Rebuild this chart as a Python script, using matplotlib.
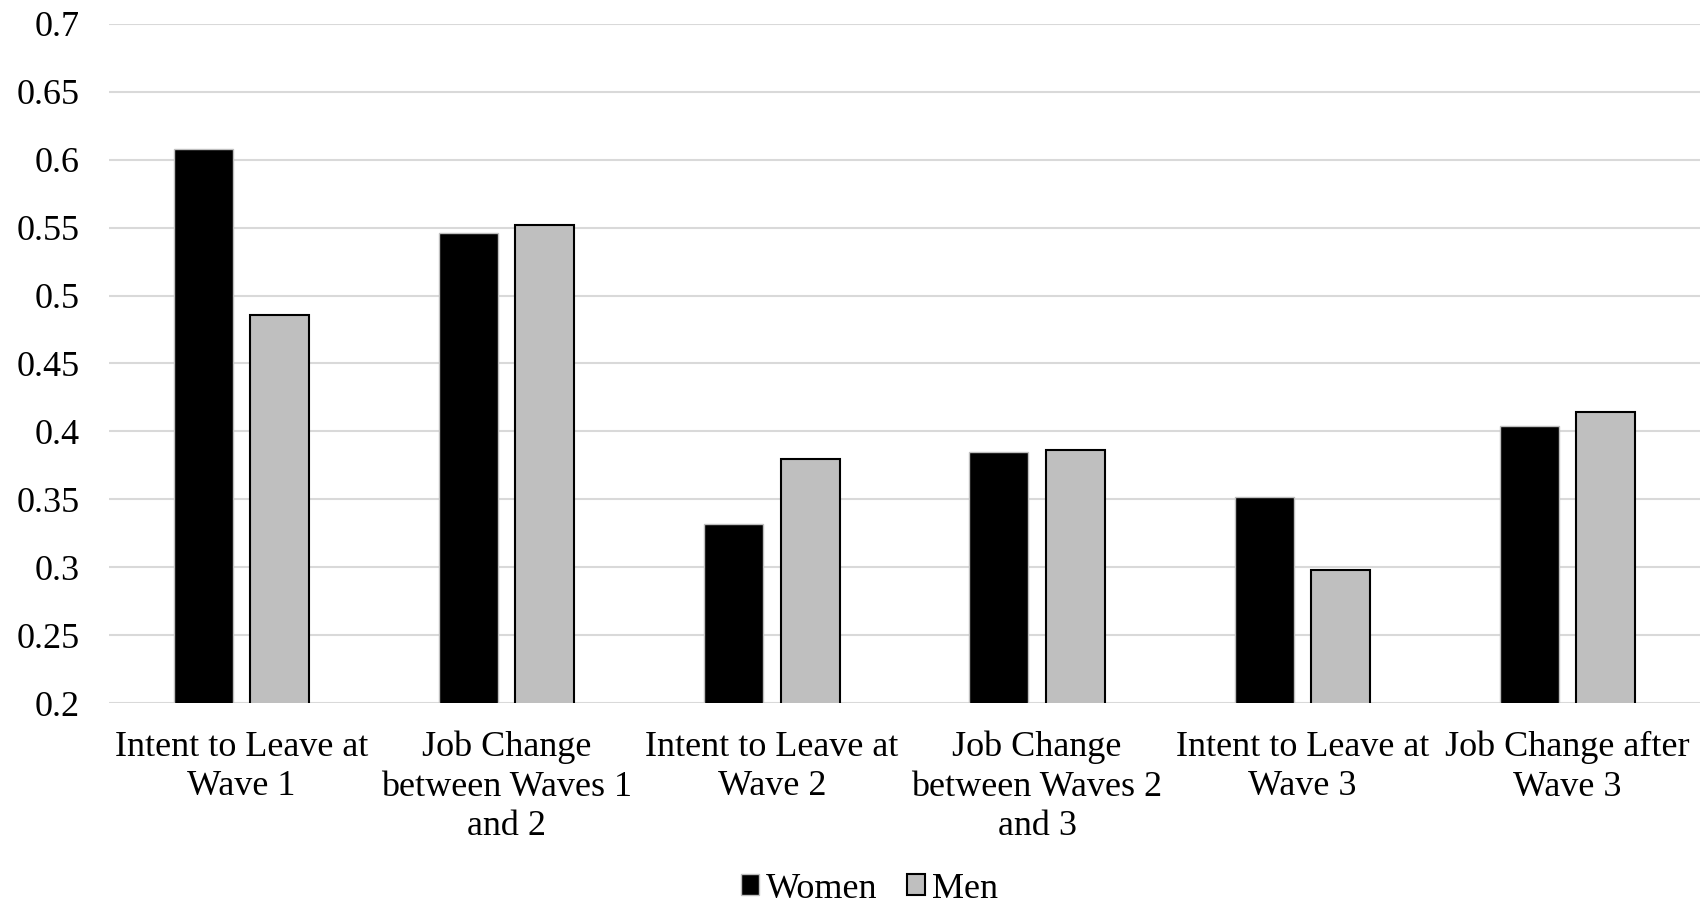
import numpy as np
import matplotlib
matplotlib.use("Agg")
import matplotlib.pyplot as plt

categories = [
    "Intent to Leave at\nWave 1",
    "Job Change\nbetween Waves 1\nand 2",
    "Intent to Leave at\nWave 2",
    "Job Change\nbetween Waves 2\nand 3",
    "Intent to Leave at\nWave 3",
    "Job Change after\nWave 3",
]
women = [0.608, 0.546, 0.332, 0.385, 0.352, 0.404]
men = [0.486, 0.552, 0.380, 0.386, 0.298, 0.414]
yticks = [0.2, 0.25, 0.3, 0.35, 0.4, 0.45, 0.5, 0.55, 0.6, 0.65, 0.7]
ytick_labels = ["0.2", "0.25", "0.3", "0.35", "0.4", "0.45", "0.5", "0.55", "0.6", "0.65", "0.7"]

plt.rcParams["font.family"] = ["Liberation Serif", "DejaVu Serif"]

fig = plt.figure(figsize=(17.05, 9.05), dpi=100)
ax = fig.add_axes([0.0639, 0.2232, 0.9332, 0.7503])

x = np.arange(len(categories))
w = 0.223
off = 0.144
ax.bar(x - off, women, width=w, bottom=0, color="black", edgecolor="#bfbfbf",
       linewidth=1.0, label="Women", zorder=3)
ax.bar(x + off, men, width=w, bottom=0, color="#bfbfbf", edgecolor="black",
       linewidth=1.5, label="Men", zorder=3)

ax.set_xlim(-0.5, len(categories) - 0.5)
ax.set_ylim(0.2, 0.7)
ax.set_yticks(yticks)
ax.set_yticklabels(ytick_labels)
ax.set_xticks(x)
ax.set_xticklabels(categories, linespacing=1.25)

ax.grid(axis="y", color="#d9d9d9", linewidth=1.5, zorder=0)
for s in ax.spines.values():
    s.set_visible(False)
ax.tick_params(axis="both", length=0, labelsize=26)
ax.tick_params(axis="y", pad=21)
ax.tick_params(axis="x", pad=20)

ax.legend(loc="center", bbox_to_anchor=(0.478, -0.274), ncol=2, frameon=False,
          fontsize=26, handlelength=0.5, handleheight=0.5, handletextpad=0.2,
          columnspacing=0.8)

fig.savefig("out.png", dpi=100)
